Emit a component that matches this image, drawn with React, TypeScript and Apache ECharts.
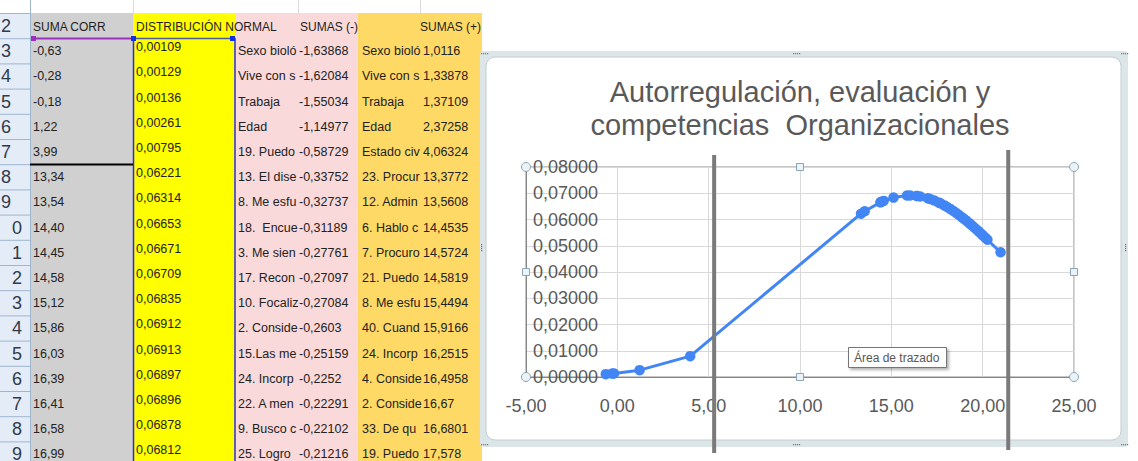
import React, { useEffect, useRef } from 'react';
import * as echarts from 'echarts';

// ---------- DATA ----------
const sumaCorr = [-0.63, -0.28, -0.18, 1.22, 3.99, 13.34, 13.54, 14.40, 14.45, 14.58, 15.12, 15.86, 16.03, 16.39, 16.41, 16.58, 16.99];
const distNormal = [0.00109, 0.00129, 0.00136, 0.00261, 0.00795, 0.06221, 0.06314, 0.06653, 0.06671, 0.06709, 0.06835, 0.06912, 0.06913, 0.06897, 0.06896, 0.06878, 0.06812];
// points of the chart below the visible rows
const tailCorr = [17.12, 17.35, 17.58, 17.71, 17.90, 18.05, 18.22, 18.40, 18.55, 18.68, 18.84, 18.97, 19.10, 19.26, 19.38, 19.52, 19.66, 19.79, 19.90, 20.02, 20.15, 20.26, 20.98];
const tailDist = [0.06780, 0.06722, 0.06652, 0.06608, 0.06537, 0.06478, 0.06404, 0.06321, 0.06249, 0.06183, 0.06098, 0.06028, 0.05956, 0.05863, 0.05792, 0.05707, 0.05620, 0.05538, 0.05467, 0.05389, 0.05302, 0.05229, 0.04750];

const sumasNegLabels = ['Sexo bioló', 'Vive con s', 'Trabaja', 'Edad', '19. Puedo', '13. El dise', '8. Me esfu', '18.  Encue', '3. Me sien', '17. Recon', '10. Focaliz', '2. Conside', '15.Las me', '24. Incorp', '22. A men', '9. Busco c', '25. Logro'];
const sumasNeg = [-1.63868, -1.62084, -1.55034, -1.14977, -0.58729, -0.33752, -0.32737, -0.31189, -0.27761, -0.27097, -0.27084, -0.2603, -0.25159, -0.2252, -0.22291, -0.22102, -0.21216];
const sumasPosLabels = ['Sexo bioló', 'Vive con s', 'Trabaja', 'Edad', 'Estado civ', '23. Procur', '12. Admin', '6. Hablo c', '7. Procuro', '21. Puedo', '8. Me esfu', '40. Cuand', '24. Incorp', '4. Conside', '2. Conside', '33. De qu', '19. Puedo'];
const sumasPos = [1.0116, 1.33878, 1.37109, 2.37258, 4.06324, 13.3772, 13.5608, 14.4535, 14.5724, 14.5819, 15.4494, 15.9166, 16.2515, 16.4958, 16.67, 16.6801, 17.578];

const headers = ['SUMA CORR', 'DISTRIBUCIÓN NORMAL', 'SUMAS (-)', 'SUMAS (+)'];
const rowNumbers = [2, 3, 4, 5, 6, 7, 8, 9, 10, 11, 12, 13, 14, 15, 16, 17, 18, 19];
const titleLines = ['Autorregulación, evaluación y', 'competencias  Organizacionales'];
const cutLines = [5.3, 21.4];
const plotTip = 'Área de trazado';

const FONT = '"Liberation Sans", Arial, sans-serif';
const comma = (s: string) => s.replace('.', ',');

export default function App() {
  const ref = useRef<HTMLDivElement>(null);

  useEffect(() => {
    const chart = echarts.init(ref.current!, null, { renderer: 'svg' });
    const points = sumaCorr.concat(tailCorr).map((x, i) => [x, distNormal.concat(tailDist)[i]]);

    chart.setOption({
      animation: false,
      backgroundColor: '#ffffff',
      grid: { left: 526, right: 64, top: 167, bottom: 84, show: true, borderColor: '#8c8c8c', borderWidth: 1, containLabel: false },
      xAxis: {
        type: 'value', min: -5, max: 25, interval: 5,
        axisLine: { show: true, onZero: false, lineStyle: { color: '#868686' } },
        axisTick: { show: false },
        splitLine: { show: true, lineStyle: { color: '#d9d9d9' } },
        axisLabel: { fontSize: 18, color: '#595959', margin: 20, fontFamily: FONT, formatter: (v: number) => comma(v.toFixed(2)) },
      },
      yAxis: {
        type: 'value', min: 0, max: 0.08, interval: 0.01,
        axisLine: { show: true, onZero: false, lineStyle: { color: '#868686' } },
        axisTick: { show: false },
        splitLine: { show: true, lineStyle: { color: '#d9d9d9' } },
        axisLabel: { inside: true, margin: 72, align: 'right', fontSize: 18, color: '#595959', fontFamily: FONT, formatter: (v: number) => comma(v.toFixed(5)) },
      },
      series: [{
        type: 'line', data: points, symbol: 'circle', symbolSize: 10.5, z: 3,
        lineStyle: { color: '#4285f4', width: 3 }, itemStyle: { color: '#4285f4' },
      }],
    });

    const els: any[] = [];
    const rowTop = (r: number) => 13 + (r - 2) * 25.2;
    const txt = (text: string, x: number, y: number, size: number, fill: string, align = 'left', z = -3) => ({
      type: 'text', z, x, y, silent: true,
      style: { text, fill, fontSize: size, fontFamily: FONT, textAlign: align, textVerticalAlign: 'middle' },
    });
    const rect = (x: number, y: number, w: number, h: number, fill: string, z = -3, extra: any = {}) => ({
      type: 'rect', z, silent: true, shape: { x, y, width: w, height: h, ...(extra.r ? { r: extra.r } : {}) },
      style: { fill, ...(extra.style || {}) },
    });
    const line = (x1: number, y1: number, x2: number, y2: number, stroke: string, w = 1, z = -3) => ({
      type: 'line', z, silent: true, shape: { x1, y1, x2, y2 }, style: { stroke, lineWidth: w },
    });

    // ---- spreadsheet ----
    els.push(rect(0, 13, 30, 448, '#e4ecf7'));
    els.push(rect(30, 13, 103, 448, '#d0d0d0'));
    els.push(rect(133, 13, 102, 448, '#ffff00'));
    els.push(rect(235, 13, 123, 448, '#f9d9d9'));
    els.push(rect(358, 13, 124, 448, '#ffd966'));
    els.push(line(30.5, 0, 30.5, 461, '#9eb6ce'));
    [133.5, 298.5, 420.5].forEach((x) => els.push(line(x, 0, x, 13, '#dadada')));
    rowNumbers.forEach((r) => {
      const t = rowTop(r);
      els.push(line(0, t + 0.5, 30, t + 0.5, '#9eb6ce'));
      const label = String(r);
      if (r < 10) els.push(txt(label, 11, t + 13, 18, '#2f3b4c', 'right'));
      else els.push(txt(label.slice(-1), 22, t + 13, 18, '#2f3b4c', 'right'));
    });
    // header row
    const ht = rowTop(2) + 14;
    els.push(txt(headers[0], 33, ht, 12, '#1f1f1f'));
    els.push(txt(headers[1], 136, ht, 12, '#1f1f1f'));
    els.push(txt(headers[2], 300, ht, 12, '#1f1f1f'));
    els.push(txt(headers[3], 481, ht, 12, '#1f1f1f', 'right'));
    // data rows
    sumaCorr.forEach((v, i) => {
      const t = rowTop(i + 3);
      els.push(txt(comma(v.toFixed(2)), 33, t + 13, 12.5, '#222'));
      els.push(txt(comma(distNormal[i].toFixed(5)), 136, t + 9, 12.5, '#222'));
      els.push(txt(sumasNegLabels[i], 238, t + 13, 12.5, '#222'));
      els.push(txt(comma(String(sumasNeg[i])), 299, t + 13, 12.5, '#222'));
      els.push(txt(sumasPosLabels[i], 362, t + 13, 12.5, '#222'));
      els.push(txt(comma(String(sumasPos[i])), 423, t + 13, 12.5, '#222'));
    });
    // borders / selection
    els.push(line(31, 38.5, 133, 38.5, '#9b30c0', 2));
    els.push(rect(31, 36, 5, 5, '#9b30c0'));
    els.push(line(133, 38.5, 235, 38.5, '#4a5a9a', 1.5));
    els.push(line(133.5, 38, 133.5, 461, '#2a2ae8', 1.5));
    els.push(line(235, 38, 235, 461, '#2a2ae8', 1.5));
    els.push(rect(131, 36, 5, 5, '#1030e0'));
    els.push(rect(230, 36, 5, 5, '#1030e0'));
    els.push(line(30, 164.5, 133, 164.5, '#000', 2));

    // ---- chart frame ----
    els.push(rect(480, 51, 648, 396, '#dce6e9', -2, { r: 4 }));
    els.push(rect(486, 57, 635, 383, '#ffffff', -1, { r: 9, style: { stroke: '#c3cdd1', lineWidth: 1 } }));
    const dots = (x: number, y: number, horiz: boolean) => {
      for (let k = 0; k < 4; k++) els.push(rect(horiz ? x + k * 2 : x, horiz ? y : y + k * 2, 1.2, 1.2, '#7a7a7a', 5));
    };
    dots(793, 53, true); dots(793, 444, true); dots(481, 244, false); dots(1125, 244, false);
    dots(481, 53, true); dots(1121, 53, true); dots(481, 444, true); dots(1121, 444, true);

    // ---- title ----
    els.push(txt(titleLines[0], 800, 92, 29, '#595959', 'center', 5));
    els.push(txt(titleLines[1], 800, 125, 29, '#595959', 'center', 5));

    // ---- cut lines via axis scale ----
    const tops = [155, 150];
    const bottoms = [453, 450];
    cutLines.forEach((v, i) => {
      const px = chart.convertToPixel({ gridIndex: 0 }, [v, 0]) as number[];
      els.push(line(px[0], tops[i], px[0], bottoms[i], '#7a7a7a', 4, 10));
    });

    // ---- plot-area selection handles ----
    const c0 = chart.convertToPixel({ gridIndex: 0 }, [-5, 0]) as number[];
    const c1 = chart.convertToPixel({ gridIndex: 0 }, [25, 0.08]) as number[];
    const mx = (c0[0] + c1[0]) / 2, my = (c0[1] + c1[1]) / 2;
    [[c0[0], c0[1]], [c1[0], c0[1]], [c0[0], c1[1]], [c1[0], c1[1]]].forEach(([x, y]) =>
      els.push({ type: 'circle', z: 11, silent: true, shape: { cx: x, cy: y, r: 4.5 }, style: { fill: '#eaf3f7', stroke: '#8aa5b5', lineWidth: 1 } }));
    [[mx, c0[1]], [mx, c1[1]], [c0[0], my], [c1[0], my]].forEach(([x, y]) =>
      els.push({ type: 'rect', z: 11, silent: true, shape: { x: x - 3.5, y: y - 3.5, width: 7, height: 7 }, style: { fill: '#eaf3f7', stroke: '#8aa5b5', lineWidth: 1 } }));

    // ---- tooltip ----
    els.push({ type: 'rect', z: 12, silent: true, shape: { x: 848.5, y: 347.5, width: 98, height: 20 },
      style: { fill: '#ffffff', stroke: '#767676', lineWidth: 1, shadowBlur: 3, shadowOffsetX: 2, shadowOffsetY: 2, shadowColor: 'rgba(0,0,0,0.3)' } });
    els.push(txt(plotTip, 854, 358, 12, '#575757', 'left', 13));

    chart.setOption({ graphic: { elements: els } });

    return () => chart.dispose();
  }, []);

  return <div ref={ref} style={{ position: 'fixed', left: 0, top: 0, width: 1138, height: 461 }} />;
}
